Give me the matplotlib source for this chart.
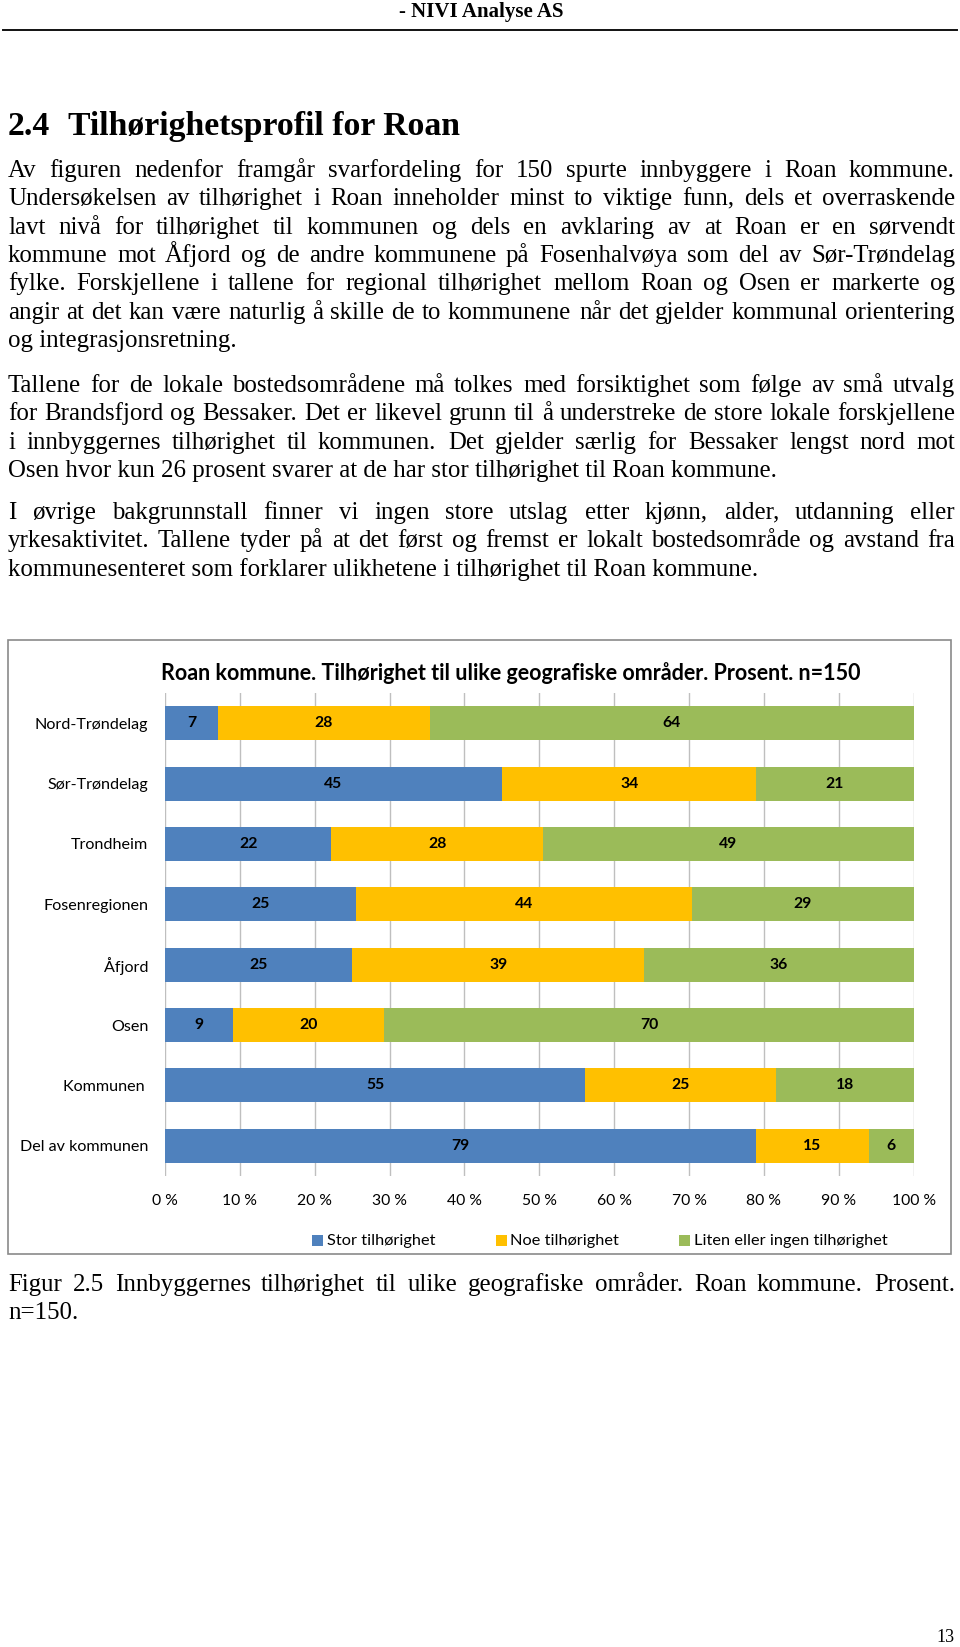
## Roan kommune - page with stacked bar chart

import numpy as np
import matplotlib.pyplot as plt
from matplotlib.patches import Rectangle
from matplotlib.lines import Line2D
from matplotlib.transforms import IdentityTransform
from matplotlib.font_manager import FontProperties
from matplotlib.backends.backend_agg import get_hinting_flag

W, H = 960, 1647

categories = ['Nord-Trøndelag', 'Sør-Trøndelag', 'Trondheim', 'Fosenregionen',
              'Åfjord', 'Osen', 'Kommunen ', 'Del av kommunen']
stor = [7, 45, 22, 25, 25, 9, 55, 79]
noe = [28, 34, 28, 44, 39, 20, 25, 15]
liten = [64, 21, 49, 29, 36, 70, 18, 6]
series_names = ['Stor tilhørighet', 'Noe tilhørighet', 'Liten eller ingen tilhørighet']
colors = ['#4F81BD', '#FFC000', '#9BBB59']
tick_labels = ['0 %', '10 %', '20 %', '30 %', '40 %', '50 %', '60 %', '70 %', '80 %', '90 %', '100 %']

chart_title = 'Roan kommune. Tilhørighet til ulike geografiske områder. Prosent. n=150'
header = '- NIVI Analyse AS'
heading_num = '2.4'
heading = 'Tilhørighetsprofil for Roan'

para1 = ['Av figuren nedenfor framgår svarfordeling for 150 spurte innbyggere i Roan kommune.',
         'Undersøkelsen av tilhørighet i Roan inneholder minst to viktige funn, dels et overraskende',
         'lavt nivå for tilhørighet til kommunen og dels en avklaring av at Roan er en sørvendt',
         'kommune mot Åfjord og de andre kommunene på Fosenhalvøya som del av Sør-Trøndelag',
         'fylke. Forskjellene i tallene for regional tilhørighet mellom Roan og Osen er markerte og',
         'angir at det kan være naturlig å skille de to kommunene når det gjelder kommunal orientering',
         'og integrasjonsretning.']
para2 = ['Tallene for de lokale bostedsområdene må tolkes med forsiktighet som følge av små utvalg',
         'for Brandsfjord og Bessaker. Det er likevel grunn til å understreke de store lokale forskjellene',
         'i innbyggernes tilhørighet til kommunen. Det gjelder særlig for Bessaker lengst nord mot',
         'Osen hvor kun 26 prosent svarer at de har stor tilhørighet til Roan kommune.']
para3 = ['I øvrige bakgrunnstall finner vi ingen store utslag etter kjønn, alder, utdanning eller',
         'yrkesaktivitet.  Tallene tyder på at det først og fremst er lokalt bostedsområde og avstand fra',
         'kommunesenteret som forklarer ulikhetene i tilhørighet til Roan kommune.']
caption = ['Figur 2.5 Innbyggernes tilhørighet til ulike geografiske områder. Roan kommune. Prosent.',
           'n=150.']

SERIF = 'Liberation Serif'
SANS = 'Lato'
BODY_SIZE = 17.95

fig = plt.figure(figsize=(W / 100, H / 100), dpi=100)
renderer = fig.canvas.get_renderer()
px = IdentityTransform()


def fx(x):
    return x / W


def fy(y):
    return 1 - y / H


def snapped_y(word, y, size):
    # agg rounds each word's bitmap on its own, so pick the whole-pixel y that puts
    # this word's baseline exactly on y (otherwise words jump by a pixel)
    font = renderer._prepare_font(FontProperties(family=SERIF, size=size))
    font.set_text(word, 0, flags=get_hinting_flag())
    h26 = font.get_width_height()[1]
    d26 = font.get_descent()

    def drawn(ys):
        return round(ys + d26 / 64) - h26 // 64 + (h26 - d26) // 64

    return min(range(y - 3, y + 4), key=lambda ys: (abs(drawn(ys) - y), abs(ys - y)))


def justified_line(line, y, x0=8, x1=955, size=BODY_SIZE, justify=True):
    # y is the baseline in pixels from the top
    y = int(round(y))
    if not justify:
        fig.text(x0, H - y, line, fontsize=size, family=SERIF, va='baseline', ha='left', transform=px)
        return
    words = line.split()
    texts = [fig.text(0, H - snapped_y(w, y, size), w, fontsize=size, family=SERIF,
                      va='baseline', ha='left', transform=px) for w in words]
    widths = [t.get_window_extent(renderer).width for t in texts]
    gap = (x1 - x0 - sum(widths)) / (len(words) - 1)
    x = x0
    for t, w in zip(texts, widths):
        t.set_x(round(x))
        x += w + gap


def paragraph(lines, y0, step=28.35):
    for i, line in enumerate(lines):
        justified_line(line, y0 + i * step, justify=(i < len(lines) - 1))


# page header
fig.text(fx(481), fy(17), header, fontsize=15, family=SERIF, weight='bold', ha='center', va='baseline')
fig.add_artist(Line2D([fx(3), fx(957)], [fy(30), fy(30)], color='#111111', lw=1.4))
fig.text(fx(8), fy(135), heading_num, fontsize=24.3, family=SERIF, weight='bold', ha='left', va='baseline')
fig.text(fx(68), fy(135), heading, fontsize=24.3, family=SERIF, weight='bold', ha='left', va='baseline')

paragraph(para1, 177)
paragraph(para2, 392)
paragraph(para3, 519)
paragraph(caption, 1291, step=28)
fig.text(fx(955), fy(1642), '13', fontsize=13, family=SERIF, ha='right', va='baseline')

# chart frame
fig.add_artist(Rectangle((fx(7.5), fy(1254)), fx(951) - fx(7.5), fy(639.5) - fy(1254),
                         transform=fig.transFigure, fill=False, edgecolor='#8a8a8a', lw=1.2))
fig.text(fx(511), fy(673), chart_title, fontsize=15.5, family=SANS, weight='bold', ha='center', va='center')

ax = fig.add_axes([fx(165), fy(1176), fx(913.6) - fx(165), fy(693) - fy(1176)])

values = np.array([stor, noe, liten], dtype=float)
shares = values / values.sum(axis=0) * 100
ypos = np.arange(len(categories))
left = np.zeros(len(categories))
for i in range(3):
    bars = ax.barh(ypos, shares[i], left=left, height=0.565, color=colors[i], zorder=2)
    ax.bar_label(bars, labels=[str(int(v)) for v in values[i]], label_type='center',
                 fontsize=11.3, family=SANS, weight='bold', color='black')
    left += shares[i]

ax.set_xlim(0, 100)
ax.set_ylim(len(categories) - 0.5, -0.5)
ax.set_yticks(ypos)
ax.set_yticklabels(categories, fontsize=11.6, family=SANS)
ax.set_xticks(np.arange(0, 101, 10))
ax.set_xticklabels(tick_labels, fontsize=11.3, family=SANS)
ax.tick_params(axis='y', length=0, pad=12)
ax.tick_params(axis='x', length=0, pad=13)
ax.grid(axis='x', color='#bfbfbf', lw=1, zorder=0)
for s in ax.spines.values():
    s.set_visible(False)

# legend entries: square marker then label
legend_x = [312, 495.5, 679]
for x, name, c in zip(legend_x, series_names, colors):
    fig.add_artist(Rectangle((fx(x), fy(1246)), fx(11) - fx(0), fy(1235) - fy(1246),
                             transform=fig.transFigure, facecolor=c, edgecolor='none'))
    fig.text(fx(x + 15), fy(1240.5), name, fontsize=11.8, family=SANS, ha='left', va='center')

fig.savefig('out.png', dpi=100)
